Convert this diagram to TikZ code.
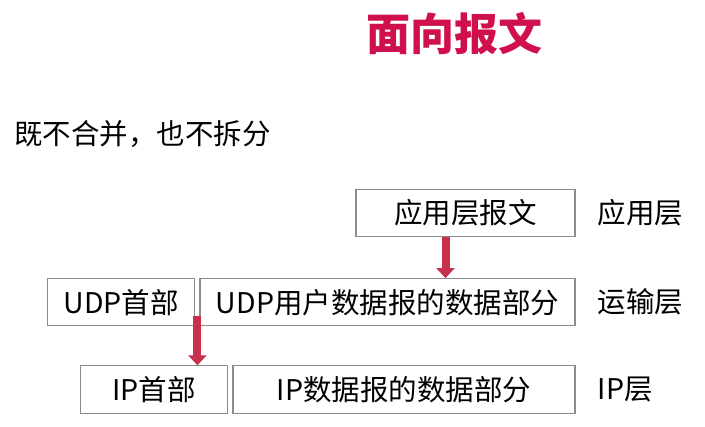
\documentclass[tikz,border=0pt]{standalone}
\usepackage{fontspec}
\setmainfont{Noto Sans CJK SC}
\usepackage{xcolor}
\usetikzlibrary{arrows.meta, positioning}

\definecolor{titlered}{HTML}{D0104C}
\definecolor{arrowred}{HTML}{C9304B}
\definecolor{boxgray}{HTML}{8C8C8C}

\begin{document}
\begin{tikzpicture}[
    x=1pt, y=-1pt,
    box/.style={rectangle, draw=boxgray, line width=1.2pt, fill=white, minimum height=47pt, inner sep=0pt, text centered, font=\fontsize{28.5}{31}\selectfont},
    layer/.style={rectangle, inner sep=0pt, font=\fontsize{28.5}{31}\selectfont},
    arrow/.style={-{Triangle[width=18pt,length=10pt]}, line width=8pt, arrowred}
]
    \useasboundingbox (0,0) rectangle (705,427);

    % Title and note
    \node[text=titlered, font=\bfseries\fontsize{44}{48}\selectfont] (title) at (454,34) {面向报文};
    \node[anchor=west, inner sep=0pt, font=\fontsize{28.5}{31}\selectfont] (note) at (14,134.5) {既不合并，也不拆分};

    % Boxes
    \node[box, minimum width=219pt] (app) at (465.5,213) {应用层报文};
    \node[box, minimum width=375pt, below=41pt of app.south east, anchor=north east] (udpdata) {UDP用户数据报的数据部分};
    \node[box, minimum width=147pt, left=4pt of udpdata] (udphead) {UDP首部};
    \node[box, minimum width=342pt, minimum height=48pt, below=39pt of udpdata.south east, anchor=north east] (ipdata) {IP数据报的数据部分};
    \node[box, minimum width=147pt, minimum height=48pt, left=4pt of ipdata] (iphead) {IP首部};

    % Layer names
    \node[layer, right=22pt of app] (applayer) {应用层};
    \node[layer, right=22pt of udpdata] (udplayer) {运输层};
    \node[layer, right=22pt of ipdata] (iplayer) {IP层};

    % Arrows
    \draw[arrow] ([xshift=-20pt]app.south) -- ([xshift=-20pt]app.south |- udpdata.north);
    \draw[arrow] ([xshift=2pt, yshift=10pt]udphead.south east) -- ([xshift=2pt]udphead.east |- iphead.north);

\end{tikzpicture}
\end{document}
